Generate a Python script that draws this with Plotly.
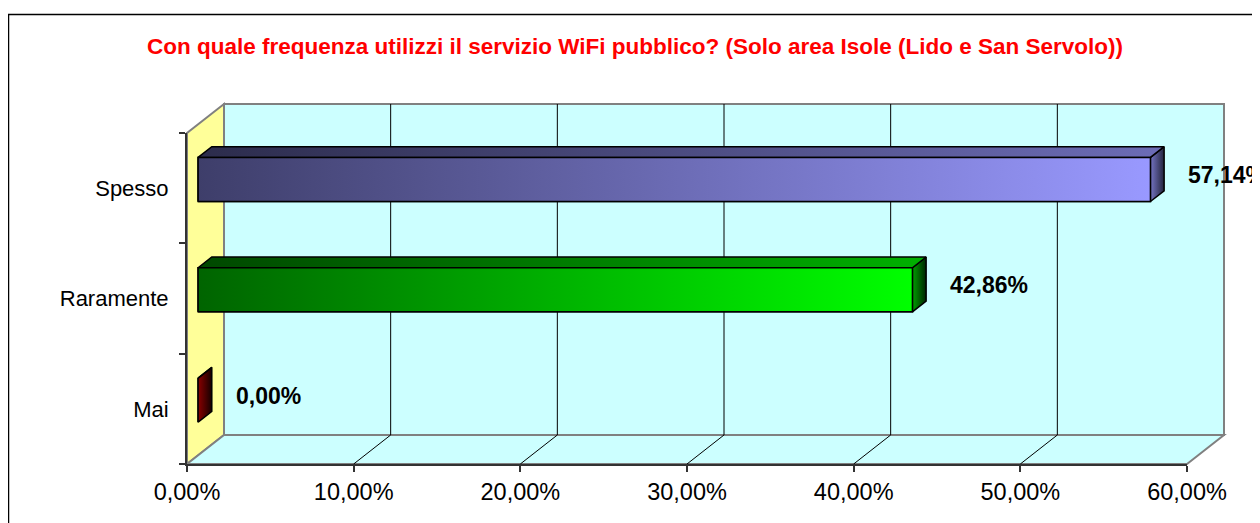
import plotly.graph_objects as go

# ---------------- data ----------------
categories = ["Mai", "Raramente", "Spesso"]
values = [0.0, 42.86, 57.14]
x_tick_values = [0, 10, 20, 30, 40, 50, 60]
x_tick_labels = ["0,00%", "10,00%", "20,00%", "30,00%", "40,00%", "50,00%", "60,00%"]
title_text = "Con quale frequenza utilizzi il servizio WiFi pubblico? (Solo area Isole (Lido e San Servolo))"

# gradient colours (left -> right) for each category: front, top, side faces
front_grad = [("#7a0000", "#7a0000"), ("#006400", "#00ff00"), ("#3e3e6a", "#9999ff")]
top_grad = [("#5a0000", "#5a0000"), ("#004800", "#00b000"), ("#2c2c4c", "#6c6cb6")]
side_grad = [("#8a0000", "#140000"), ("#00a000", "#002400"), ("#7474c4", "#24243c")]
mid_colors = ["#600000", "#00b000", "#6c6cb4"]

# ---------------- geometry ----------------
W, H = 1260, 523
PAGE_OFF = 8                     # default body margin of the html page
X0PX, X60PX = 187, 1187          # front plane x pixels for 0 % and 60 %
YBOT, YTOP = 464, 133            # front plane y pixels (category band limits)
SX = (X60PX - X0PX) / 60.0
SY = (YBOT - YTOP) / 3.0
DX = 37 / SX                     # depth offset in x units
DY = 29 / SY                     # depth offset in y units
F0, F1 = 0.30, 0.67              # bar depth (front/back fraction)
HB = 0.20                        # half bar thickness
XMAX = 60
FONT = "Liberation Sans, Arial, sans-serif"

# drawing subplot (padded) pixel box
AX0, AX1, AY0, AY1 = 150, 1250, 90, 480
xa_range = [(AX0 - X0PX) / SX, (AX1 - X0PX) / SX]
ya_range = [-0.5 - (AY1 - YBOT) / SY, -0.5 + (YBOT - AY0) / SY]


def fx(px):
    return (px - PAGE_OFF) / W


def fy(py):
    return 1 - (py - PAGE_OFF) / H


def path(pts):
    return "M " + " L ".join(f"{x},{y}" for x, y in pts) + " Z"


fig = go.Figure()
shapes = []
ylo, yhi = -0.5, 2.5
gray = "#808080"

# back wall
shapes.append(dict(type="path", xref="x", yref="y", layer="below",
                   path=path([(DX, ylo + DY), (XMAX + DX, ylo + DY), (XMAX + DX, yhi + DY), (DX, yhi + DY)]),
                   fillcolor="#ccffff", line=dict(color=gray, width=2)))
# left wall
shapes.append(dict(type="path", xref="x", yref="y", layer="below",
                   path=path([(0, ylo), (DX, ylo + DY), (DX, yhi + DY), (0, yhi)]),
                   fillcolor="#ffff99", line=dict(color=gray, width=2)))
# floor
shapes.append(dict(type="path", xref="x", yref="y", layer="below",
                   path=path([(0, ylo), (XMAX, ylo), (XMAX + DX, ylo + DY), (DX, ylo + DY)]),
                   fillcolor="#ccffff", line=dict(color=gray, width=2)))
# grid lines on back wall and floor
for k in x_tick_values[1:-1]:
    shapes.append(dict(type="line", xref="x", yref="y", layer="below",
                       x0=k + DX, x1=k + DX, y0=ylo + DY, y1=yhi + DY,
                       line=dict(color="#000000", width=1)))
    shapes.append(dict(type="line", xref="x", yref="y", layer="below",
                       x0=k, x1=k + DX, y0=ylo, y1=ylo + DY,
                       line=dict(color="#000000", width=1)))
# outer chart frame
shapes.append(dict(type="rect", xref="paper", yref="paper",
                   x0=fx(8.5), x1=1.05, y0=-0.05, y1=fy(14.5),
                   line=dict(color="#000000", width=1.5), fillcolor="rgba(0,0,0,0)"))

# bars: plain bar trace for the front faces
bar_y = [i + F0 * DY for i in range(len(categories))]
fig.add_trace(go.Bar(orientation="h", y=bar_y, x=values, base=[F0 * DX] * len(values),
                     width=2 * HB, marker=dict(color=mid_colors, line=dict(color="black", width=1.5)),
                     xaxis="x", yaxis="y", showlegend=False, hoverinfo="skip"))

# 3D faces with gradients
for i, (cat, v) in enumerate(zip(categories, values)):
    yc = i
    x0f, x1f = F0 * DX, v + F0 * DX
    x0b, x1b = F1 * DX, v + F1 * DX
    yb0, yt0 = yc - HB + F0 * DY, yc + HB + F0 * DY
    yb1, yt1 = yc - HB + F1 * DY, yc + HB + F1 * DY
    faces = [
        ([x1f, x1b, x1b, x1f, x1f], [yb0, yb1, yt1, yt0, yb0], side_grad[i]),
        ([x0f, x1f, x1b, x0b, x0f], [yt0, yt0, yt1, yt1, yt0], top_grad[i]),
    ]
    if v > 0:
        faces.append(([x0f, x1f, x1f, x0f, x0f], [yb0, yb0, yt0, yt0, yb0], front_grad[i]))
    for xs, ys, (c0, c1) in faces:
        fig.add_trace(go.Scatter(x=xs, y=ys, mode="lines", fill="toself",
                                 fillgradient=dict(type="horizontal", colorscale=[[0, c0], [1, c1]]),
                                 line=dict(color="black", width=1.5),
                                 xaxis="x", yaxis="y", showlegend=False, hoverinfo="skip"))

# data labels
annotations = []
for i, v in enumerate(values):
    annotations.append(dict(xref="x", yref="y", x=v + 2.8, y=i + 0.12,
                            text="<b>" + f"{v:.2f}%".replace(".", ",") + "</b>",
                            showarrow=False, xanchor="left", yanchor="middle",
                            font=dict(family=FONT, size=23, color="black")))

# dummy trace for the axes subplot
fig.add_trace(go.Scatter(x=[None], y=[None], xaxis="x2", yaxis="y2", showlegend=False, hoverinfo="skip"))

fig.update_layout(
    width=W, height=H,
    margin=dict(l=0, r=0, t=0, b=0, autoexpand=False),
    paper_bgcolor="white", plot_bgcolor="rgba(0,0,0,0)",
    title=dict(text="<b>" + title_text + "</b>", x=fx(635), xanchor="center",
               y=fy(46), yanchor="middle", font=dict(family=FONT, size=22.5, color="#ff0000")),
    xaxis=dict(domain=[fx(AX0), fx(AX1)], range=xa_range, visible=False, fixedrange=True,
               automargin=False),
    yaxis=dict(domain=[fy(AY1), fy(AY0)], range=ya_range, visible=False, fixedrange=True,
               automargin=False),
    xaxis2=dict(domain=[fx(X0PX), fx(X60PX)], range=[0, XMAX], anchor="y2", automargin=False,
                tickmode="array", tickvals=x_tick_values, ticktext=x_tick_labels,
                showline=True, linecolor="#333333", linewidth=2, showgrid=False, zeroline=False,
                ticks="outside", ticklen=6, tickwidth=1.5, tickcolor="#333333",
                tickfont=dict(family=FONT, size=23.5, color="black")),
    yaxis2=dict(domain=[fy(YBOT), fy(YTOP)], range=[-0.5, 2.5], anchor="x2", automargin=False,
                tickmode="array", tickvals=list(range(len(categories))), ticktext=categories,
                showline=True, linecolor="#333333", linewidth=2, showgrid=False, zeroline=False,
                ticks="", ticklabelstandoff=12,
                minor=dict(tickmode="array", tickvals=[-0.5, 0.5, 1.5, 2.5], ticks="outside",
                           ticklen=6, tickwidth=1.5, tickcolor="#333333", showgrid=False),
                tickfont=dict(family=FONT, size=22, color="black")),
    shapes=shapes,
    annotations=annotations,
)

fig.write_html("out.html")
